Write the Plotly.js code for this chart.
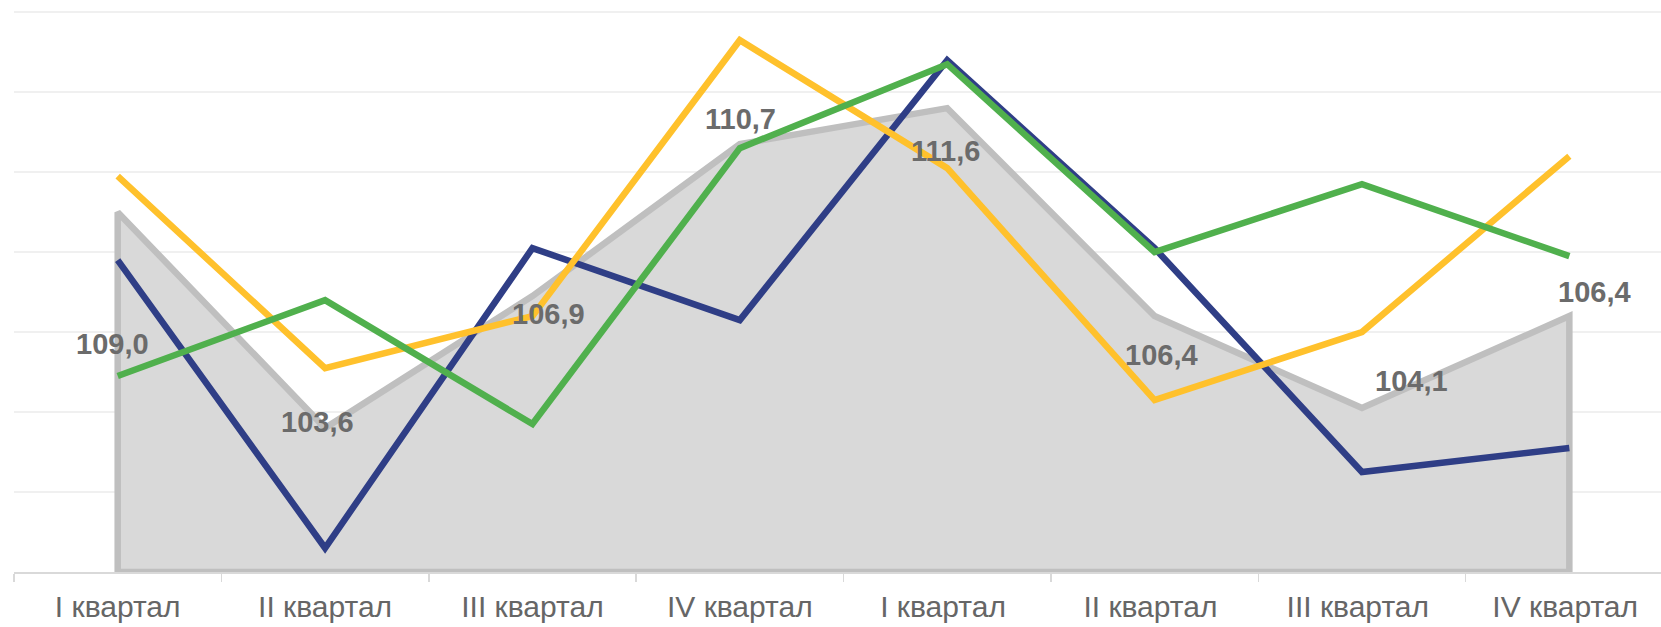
<!DOCTYPE html>
<html>
<head>
<meta charset="utf-8">
<script src="https://cdn.plot.ly/plotly-3.0.1.min.js"></script>
<style>
  html, body { margin: 0; padding: 0; background: #fff; overflow: hidden; }
  #plotly-div { width: 1661px; height: 627px; }
</style>
</head>
<body>
<div id="plotly-div"></div>
<script>
// two years by quarter
var quarters = ['I квартал', 'II квартал', 'III квартал', 'IV квартал',
                'I квартал', 'II квартал', 'III квартал', 'IV квартал'];
var yearIdx = [0, 0, 0, 0, 1, 1, 1, 1];

var areaVals   = [109.0, 103.6, 106.9, 110.7, 111.6, 106.4, 104.1, 106.4];
var yellowVals = [109.9, 105.1, 106.4, 113.3, 110.1, 104.3, 106.0, 110.4];
var greenVals  = [104.9, 106.8, 103.7, 110.6, 112.7, 108.0, 109.7, 107.9];
var navyVals   = [107.8, 100.6, 108.1, 106.3, 112.8, 108.1, 102.5, 103.1];

var yMin = 100, yMax = 114;

// repeated quarter names need distinct category keys (trailing space is stripped when drawn)
var xKeys = quarters.map(function (q, i) { return q + (yearIdx[i] ? ' ' : ''); });

function fmt(v) { return v.toFixed(1).replace('.', ','); }

// area outline goes round the whole shape, like the original
var areaTrace = {
    x: [xKeys[0]].concat(xKeys, [xKeys[xKeys.length - 1], xKeys[0]]),
    y: [yMin].concat(areaVals, [yMin, yMin]),
    type: 'scatter',
    mode: 'lines',
    fill: 'toself',
    fillcolor: '#D9D9D9',
    line: { color: '#BFBFBF', width: 6.5 },
    hoverinfo: 'skip'
};

function lineTrace(vals, color) {
    return {
        x: xKeys,
        y: vals,
        type: 'scatter',
        mode: 'lines',
        line: { color: color, width: 6.5 },
        hoverinfo: 'skip'
    };
}

var data = [
    areaTrace,
    lineTrace(navyVals, '#2F3E86'),
    lineTrace(yellowVals, '#FFC12C'),
    lineTrace(greenVals, '#50B04D')
];

// label offsets, as they were placed by hand in the original
var labelShift = [[-5, -132], [-8, 6], [16, -18], [1, 25], [-2, -43], [7, -39], [50, 27], [25, 24]];

var annotationContent = [];
for (var i = 0; i < areaVals.length; i++) {
    annotationContent.push({
        x: xKeys[i],
        y: areaVals[i],
        text: fmt(areaVals[i]),
        xanchor: 'center',
        yanchor: 'middle',
        xshift: labelShift[i][0],
        yshift: labelShift[i][1],
        showarrow: false,
        font: { family: 'Liberation Sans, Arial, sans-serif', size: 29, color: '#6B6B6B', weight: 'bold' }
    });
}

var layout = {
    width: 1661,
    height: 627,
    margin: { l: 14, r: 0, t: 11, b: 55 },
    paper_bgcolor: '#FFFFFF',
    plot_bgcolor: '#FFFFFF',
    showlegend: false,
    font: { family: 'Liberation Sans, Arial, sans-serif', color: '#666666' },
    xaxis: {
        type: 'category',
        categoryorder: 'array',
        categoryarray: xKeys,
        range: [-0.5, 7.442],
        tickson: 'boundaries',
        ticks: 'outside',
        ticklen: 8,
        tickwidth: 1.5,
        tickcolor: '#D9D9D9',
        ticklabelstandoff: 7,
        showgrid: false,
        showline: true,
        linecolor: '#D9D9D9',
        linewidth: 2,
        tickfont: { size: 30, color: '#666666' },
        zeroline: false
    },
    yaxis: {
        range: [yMin, yMax + 0.03],
        dtick: 2,
        showticklabels: false,
        showgrid: true,
        gridcolor: '#F0F0F0',
        gridwidth: 1.5,
        zeroline: false,
        showline: false,
        ticks: ''
    },
    annotations: annotationContent
};

Plotly.newPlot('plotly-div', data, layout, { staticPlot: true, displayModeBar: false });
</script>
</body>
</html>
